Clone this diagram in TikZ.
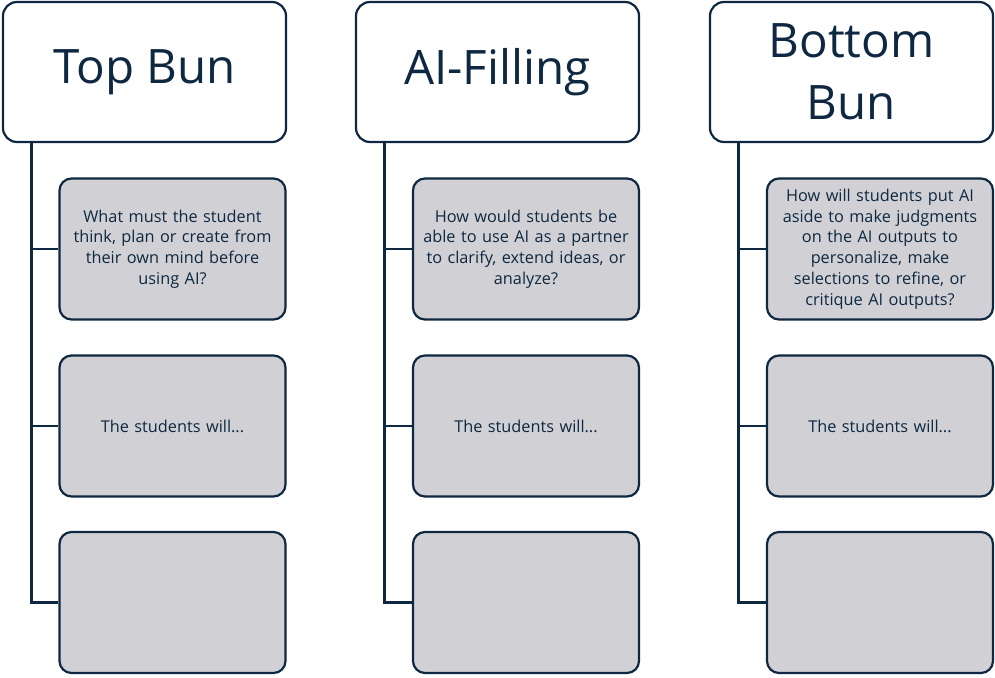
\documentclass[tikz,border=0pt]{standalone}
\usepackage{fontspec}
\setmainfont{Open Sans}
\definecolor{navy}{HTML}{0E2841}
\definecolor{boxgray}{HTML}{D1D1D5}
\begin{document}
\begin{tikzpicture}[x=1pt,y=-1pt,
  hdr/.style={draw=navy,line width=2.2pt,rounded corners=14pt,fill=white,
    minimum width=283pt,minimum height=140pt,text=navy,align=center,inner sep=0pt,
    font=\fontsize{47.5}{62}\selectfont},
  sub/.style={draw=navy,line width=2.2pt,rounded corners=12pt,fill=boxgray,
    minimum width=226pt,minimum height=141pt,text=navy,align=center,inner sep=0pt,
    text width=222pt,font=\fontsize{16.3}{20.8}\selectfont},
  conn/.style={draw=navy,line width=2.2pt}]
\useasboundingbox (0,0) rectangle (995,677);
% headers
\node[hdr] (h1) at (144.5,72) {\raisebox{-4pt}{Top Bun}};
\node[hdr] (h2) at (497.5,72) {\raisebox{-4pt}{AI-Filling}};
\node[hdr] (h3) at (851.5,72) {Bottom\\Bun};
% column 1
\node[sub] (a1) at (172.5,249) {What must the student\\think, plan or create from\\their own mind before\\using AI?};
\node[sub] (a2) at (172.5,426) {The students will...};
\node[sub] (a3) at (172.5,602.5) {};
% column 2
\node[sub] (b1) at (526,249) {How would students be\\able to use AI as a partner\\to clarify, extend ideas, or\\analyze?};
\node[sub] (b2) at (526,426) {The students will...};
\node[sub] (b3) at (526,602.5) {};
% column 3
\node[sub] (c1) at (880,249) {How will students put AI\\aside to make judgments\\on the AI outputs to\\personalize, make\\selections to refine, or\\critique AI outputs?};
\node[sub] (c2) at (880,426) {The students will...};
\node[sub] (c3) at (880,602.5) {};
% connectors
\draw[conn] (h1.south -| 31.5,0) |- (a3.west);
\draw[conn] (31.5,249) -- (a1.west);
\draw[conn] (31.5,426) -- (a2.west);
\draw[conn] (h2.south -| 384.5,0) |- (b3.west);
\draw[conn] (384.5,249) -- (b1.west);
\draw[conn] (384.5,426) -- (b2.west);
\draw[conn] (h3.south -| 738.5,0) |- (c3.west);
\draw[conn] (738.5,249) -- (c1.west);
\draw[conn] (738.5,426) -- (c2.west);
\end{tikzpicture}
\end{document}
